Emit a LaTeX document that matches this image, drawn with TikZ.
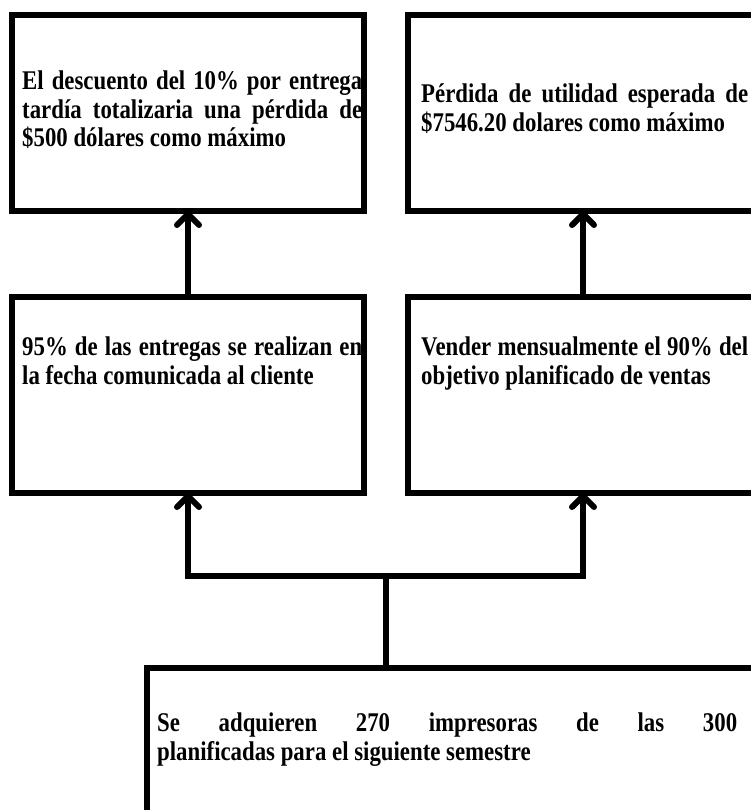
\documentclass[tikz,border=0pt]{standalone}
\usepackage{fontspec}
\setmainfont{Liberation Serif}[FakeStretch=0.845]
\usetikzlibrary{arrows.meta}
\begin{document}
\begin{tikzpicture}[x=1pt,y=-1pt,
  box/.style={draw=black, line width=6pt, rectangle, anchor=north west, inner sep=0pt, outer sep=0pt},
  txt/.style={anchor=north west, inner sep=0pt, align=justify,
    font=\fontsize{27pt}{28.3pt}\selectfont\bfseries},
  link/.style={line width=6pt, line join=miter},
  uparrow/.style={link, -{Straight Barb[length=11pt,width=22pt,line cap=round,line join=round]}}
]
\useasboundingbox (0,0) rectangle (751,810);
\fill[white] (0,0) rectangle (751,810);

% boxes
\node[box, minimum width=351.5pt, minimum height=195.5pt] (tl) at (12,15.5) {};
\node[box, minimum width=360pt, minimum height=195.5pt] (tr) at (408,15.5) {};
\node[box, minimum width=351.5pt, minimum height=196pt] (ml) at (12,297) {};
\node[box, minimum width=360pt, minimum height=196pt] (mr) at (408,297) {};
\node[box, minimum width=620pt, minimum height=150pt] (bt) at (147,668) {};

% texts
\node[txt, text width=340pt] (tltext) at (22,71)
  {El descuento del 10\% por entrega\linebreak tardía totalizaria una pérdida de\linebreak \$500 dólares como máximo};
\node[txt, text width=327pt] (trtext) at (421,84)
  {Pérdida de utilidad esperada de\linebreak \$7546.20 dolares como máximo};
\node[txt, text width=340pt] (mltext) at (22,337)
  {95\% de las entregas se realizan en\linebreak la fecha comunicada al cliente};
\node[txt, text width=327pt] (mrtext) at (421,337)
  {Vender mensualmente el 90\% del\linebreak objetivo planificado de ventas};
\node[txt, text width=580pt] (bttext) at (157,713)
  {Se adquieren 270 impresoras de las 300\linebreak planificadas para el siguiente semestre};

% connectors
\coordinate (split) at (386,575.5);
\draw[uparrow] (ml.north -| 188,0) -- (tl.south -| 188,0);
\draw[uparrow] (mr.north -| 583,0) -- (tr.south -| 583,0);
\draw[link] (bt.north -| split) -- (split);
\draw[uparrow] (split) -| (ml.south -| 188,0);
\draw[uparrow] (split) -| (mr.south -| 583,0);
\end{tikzpicture}
\end{document}
